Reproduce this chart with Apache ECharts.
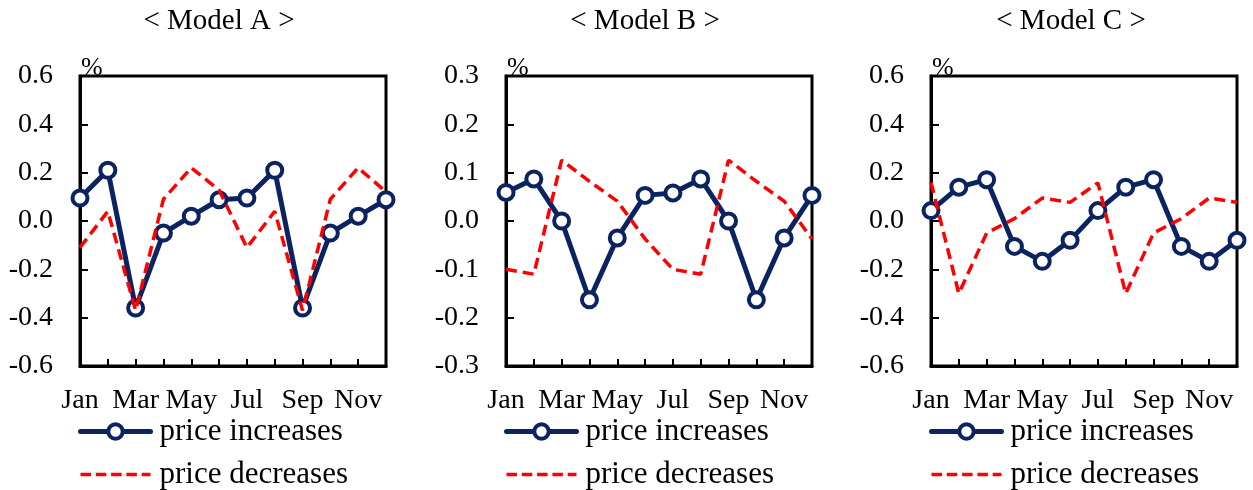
<!DOCTYPE html>
<html>
<head>
<meta charset="utf-8">
<script src="https://cdn.jsdelivr.net/npm/echarts@6/dist/echarts.min.js"></script>
<style>
  html, body { margin: 0; padding: 0; background: #fff; }
  #chart { width: 1253px; height: 490px; }
</style>
</head>
<body>
<div id="chart"></div>
<script>
// Month categories shared by all three panels
const months = ['Jan', 'Feb', 'Mar', 'Apr', 'May', 'Jun', 'Jul', 'Aug', 'Sep', 'Oct', 'Nov', 'Dec'];

// Panel titles
const panelTitles = ['< Model A >', '< Model B >', '< Model C >'];

// Model A (%)
const modelAIncreases = [0.095, 0.21, -0.36, -0.05, 0.02, 0.088, 0.095, 0.21, -0.36, -0.05, 0.02, 0.088];
const modelADecreases = [-0.11, 0.04, -0.37, 0.09, 0.22, 0.128, -0.11, 0.04, -0.37, 0.09, 0.22, 0.121];

// Model B (%)
const modelBIncreases = [0.059, 0.087, 0.0, -0.163, -0.035, 0.053, 0.058, 0.087, 0.0, -0.163, -0.035, 0.053];
const modelBDecreases = [-0.10, -0.11, 0.126, 0.082, 0.041, -0.037, -0.10, -0.11, 0.126, 0.082, 0.041, -0.037];

// Model C (%)
const modelCIncreases = [0.043, 0.14, 0.171, -0.105, -0.167, -0.08, 0.043, 0.14, 0.171, -0.105, -0.167, -0.08];
const modelCDecreases = [0.16, -0.30, -0.05, 0.01, 0.095, 0.077, 0.158, -0.30, -0.05, 0.01, 0.095, 0.077];

// Y-axis ranges per panel
const yMin = [-0.6, -0.3, -0.6];
const yMax = [0.6, 0.3, 0.6];
const yStep = [0.2, 0.1, 0.2];

const seriesNames = ['price increases', 'price decreases'];

const FONT = "'Liberation Serif', 'Times New Roman', serif";
const NAVY = '#0b2461';
const RED = '#ff0000';
const UP_WIDTH = 5;
const DOWN_WIDTH = 3.5;
const DASH = [11, 6];

const panels = [
  { up: modelAIncreases, down: modelADecreases, left: 80, titleX: 214 },
  { up: modelBIncreases, down: modelBDecreases, left: 506, titleX: 640 },
  { up: modelCIncreases, down: modelCDecreases, left: 931, titleX: 1066 }
];
const plotWidth = 306;
const plotTop = 76;
const plotHeight = 290;

const option = {
  backgroundColor: '#fff',
  animation: false,
  textStyle: { fontFamily: FONT, color: '#000' },
  title: panels.map((p, i) => ({
    text: panelTitles[i],
    left: p.titleX,
    top: 2,
    textAlign: 'center',
    textStyle: { fontFamily: FONT, fontSize: 29, fontWeight: 'normal', color: '#000' }
  })),
  legend: panels.map((p, i) => ({
    orient: 'vertical',
    left: p.left - 2,
    top: 416,
    itemWidth: 70,
    itemHeight: 18,
    itemGap: 12,
    padding: 0,
    seriesIndex: [i * 2, i * 2 + 1],
    data: [
      {
        name: seriesNames[0],
        lineStyle: { width: UP_WIDTH, color: NAVY, cap: 'round' },
        itemStyle: { color: '#fff', borderColor: NAVY, borderWidth: 4 }
      },
      {
        name: seriesNames[1],
        lineStyle: { width: DOWN_WIDTH, color: RED, type: [10.5, 4.8] },
        itemStyle: { opacity: 0 }
      }
    ],
    textStyle: { fontFamily: FONT, fontSize: 31, color: '#000', padding: [0, 0, 0, 4] }
  })),
  grid: panels.map(p => ({
    left: p.left,
    top: plotTop,
    width: plotWidth,
    height: plotHeight,
    show: true,
    borderColor: '#000',
    borderWidth: 3,
    backgroundColor: 'transparent',
    containLabel: false
  })),
  xAxis: panels.map((p, i) => ({
    type: 'category',
    gridIndex: i,
    data: months,
    boundaryGap: false,
    axisLine: { show: true, onZero: false, lineStyle: { color: '#000', width: 3 } },
    axisTick: { show: true, inside: true, length: 7, interval: 0, lineStyle: { color: '#000', width: 2 } },
    axisLabel: { interval: 1, margin: 21, fontFamily: FONT, fontSize: 28, color: '#000' },
    splitLine: { show: false }
  })),
  yAxis: panels.map((p, i) => ({
    type: 'value',
    gridIndex: i,
    min: yMin[i],
    max: yMax[i],
    interval: yStep[i],
    name: '%',
    nameLocation: 'end',
    nameGap: 0,
    nameTextStyle: { fontFamily: FONT, fontSize: 26, color: '#000', align: 'left', verticalAlign: 'bottom', padding: [0, 0, -5, 1] },
    axisLine: { show: true, lineStyle: { color: '#000', width: 3 } },
    axisTick: { show: true, inside: true, length: 8, lineStyle: { color: '#000', width: 2 } },
    axisLabel: {
      margin: 27,
      fontFamily: FONT,
      fontSize: 28,
      color: '#000',
      formatter: v => v.toFixed(1)
    },
    splitLine: { show: false }
  })),
  series: []
};

panels.forEach((p, i) => {
  option.series.push({
    name: seriesNames[0],
    type: 'line',
    xAxisIndex: i,
    yAxisIndex: i,
    data: p.up,
    z: 2,
    symbol: 'circle',
    symbolSize: 15,
    itemStyle: { color: '#fff', borderColor: NAVY, borderWidth: 4 },
    lineStyle: { color: NAVY, width: UP_WIDTH },
    color: NAVY
  });
  option.series.push({
    name: seriesNames[1],
    type: 'line',
    xAxisIndex: i,
    yAxisIndex: i,
    data: p.down,
    z: 3,
    symbol: 'none',
    lineStyle: { color: RED, width: DOWN_WIDTH, type: DASH },
    itemStyle: { color: RED },
    color: RED
  });
});

const chart = echarts.init(document.getElementById('chart'), null, { renderer: 'canvas' });
chart.setOption(option);
</script>
</body>
</html>
